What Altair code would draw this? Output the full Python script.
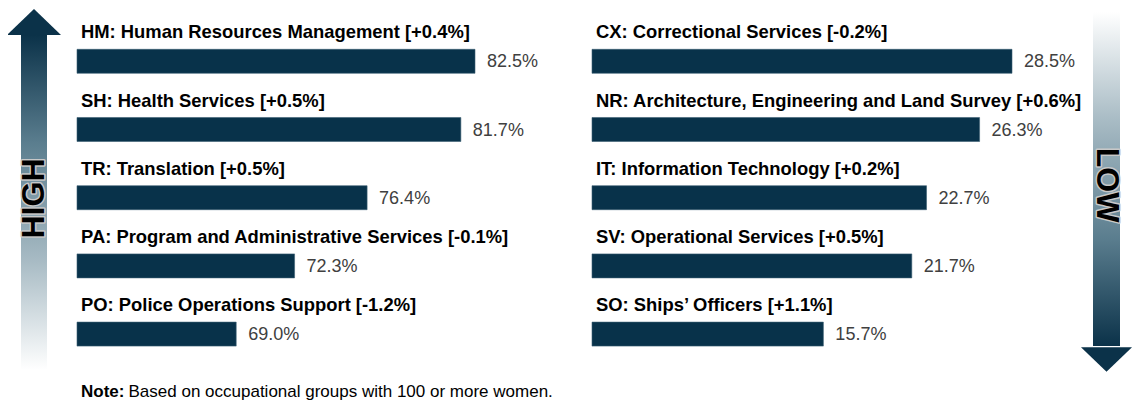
import altair as alt
import pandas as pd

# ---- data ----
left_codes = ["HM", "SH", "TR", "PA", "PO"]
left_names = ["Human Resources Management", "Health Services", "Translation",
              "Program and Administrative Services", "Police Operations Support"]
left_values = [82.5, 81.7, 76.4, 72.3, 69.0]
left_changes = ["+0.4%", "+0.5%", "+0.5%", "-0.1%", "-1.2%"]

right_codes = ["CX", "NR", "IT", "SV", "SO"]
right_names = ["Correctional Services", "Architecture, Engineering and Land Survey",
               "Information Technology", "Operational Services", "Ships\u2019 Officers"]
right_values = [28.5, 26.3, 22.7, 21.7, 15.7]
right_changes = ["-0.2%", "+0.6%", "+0.2%", "+0.5%", "+1.1%"]

note_bold = "Note:"
note_text = "Based on occupational groups with 100 or more women."

FONT = "Liberation Sans"
BAR = "#08324A"
DARK = "#0B3249"


def frame(codes, names, values, changes):
    return pd.DataFrame({
        "row": list(range(len(codes))),
        "label": [f"{c}: {n} [{ch}]" for c, n, ch in zip(codes, names, changes)],
        "value": values,
        "vlabel": [f"{v:.1f}%" for v in values],
    })


left_df = frame(left_codes, left_names, left_values, left_changes)
right_df = frame(right_codes, right_names, right_values, right_changes)
one = pd.DataFrame({"k": [0]})


def yenc():
    return alt.Y("row:O", axis=None,
                 scale=alt.Scale(type="band", domain=[0, 1, 2, 3, 4], range=[41.3, 338.1],
                                 paddingInner=0.648, paddingOuter=0))


def panel(df, domain, rng):
    def xs():
        return alt.Scale(domain=domain, range=rng, zero=False)
    base = alt.Chart(df)
    bars = base.mark_bar(color=BAR, stroke="#3d5f73", strokeWidth=0.6).encode(
        x=alt.X("value:Q", scale=xs(), axis=None),
        x2=alt.X2Datum(domain[0]),
        y=yenc(),
    )
    labels = base.mark_text(align="left", baseline="alphabetic", dx=4, dy=-23,
                            font=FONT, fontSize=18.4, fontWeight="bold",
                            color="#000000").encode(
        x=alt.XDatum(domain[0], scale=xs(), axis=None),
        y=yenc(),
        text="label:N",
    )
    vals = base.mark_text(align="left", baseline="middle", dx=12, dy=1,
                          font=FONT, fontSize=18, color="#404040").encode(
        x=alt.X("value:Q", scale=xs(), axis=None),
        y=yenc(),
        text="vlabel:N",
    )
    return [bars, labels, vals]


left = panel(left_df, [60, 82.5], [69, 467])
right = panel(right_df, [0, 28.5], [584, 1004])

stops_up = [
    alt.GradientStop(color=DARK, offset=0),
    alt.GradientStop(color="#5a7d8e", offset=0.32),
    alt.GradientStop(color="#a9bcc5", offset=0.68),
    alt.GradientStop(color="#ffffff", offset=1),
]
stops_down = [
    alt.GradientStop(color="#ffffff", offset=0),
    alt.GradientStop(color="#a9bcc5", offset=0.32),
    alt.GradientStop(color="#5a7d8e", offset=0.68),
    alt.GradientStop(color=DARK, offset=1),
]

deco = alt.Chart(one)


def arrow_text(word, angle, x, y):
    halo = deco.mark_text(
        text=word, angle=angle, align="center", baseline="middle",
        font=FONT, fontSize=32, fontWeight="bold", color="#c8c8c8",
        stroke="#c8c8c8", strokeWidth=3, strokeJoin="round"
    ).encode(x=alt.value(x), y=alt.value(y))
    core = deco.mark_text(
        text=word, angle=angle, align="center", baseline="middle",
        font=FONT, fontSize=32, fontWeight="bold", color="#000000"
    ).encode(x=alt.value(x), y=alt.value(y))
    return [halo, core]


shaft_l = deco.mark_rect(
    color=alt.LinearGradient(gradient="linear", stops=stops_up, x1=0, x2=0, y1=0, y2=1)
).encode(x=alt.value(13), x2=alt.value(39), y=alt.value(27), y2=alt.value(362))
head_l = deco.mark_point(
    shape="M -1 0.48 L 1 0.48 L 0 -0.48 Z", filled=True, size=54 * 54,
    color=DARK, opacity=1
).encode(x=alt.value(26), y=alt.value(14))
text_l = arrow_text("HIGH", 270, 25.5, 190.5)

shaft_r = deco.mark_rect(
    color=alt.LinearGradient(gradient="linear", stops=stops_down, x1=0, x2=0, y1=0, y2=1)
).encode(x=alt.value(1085), x2=alt.value(1112), y=alt.value(4), y2=alt.value(338))
head_r = deco.mark_point(
    shape="M -1 -0.48 L 1 -0.48 L 0 0.48 Z", filled=True, size=51 * 51,
    color=DARK, opacity=1
).encode(x=alt.value(1098.5), y=alt.value(351.5))
text_r = arrow_text("LOW", 90, 1099, 177)

note1 = deco.mark_text(
    text=note_bold, align="left", baseline="alphabetic",
    font=FONT, fontSize=17, fontWeight="bold", color="#000000"
).encode(x=alt.value(73), y=alt.value(389))
note2 = deco.mark_text(
    text=note_text, align="left", baseline="alphabetic",
    font=FONT, fontSize=17, color="#000000"
).encode(x=alt.value(120.5), y=alt.value(389))

chart = alt.layer(
    shaft_l, head_l, *text_l, shaft_r, head_r, *text_r, *left, *right, note1, note2
).resolve_scale(x="independent", y="independent").properties(
    width=1124, height=394,
    autosize=alt.AutoSizeParams(type="none"),
    padding=0,
).configure(
    background="#ffffff",
    view=alt.ViewConfig(stroke="transparent", strokeWidth=0),
)

chart.save("out.html", embed_options={"renderer": "svg", "actions": False})
